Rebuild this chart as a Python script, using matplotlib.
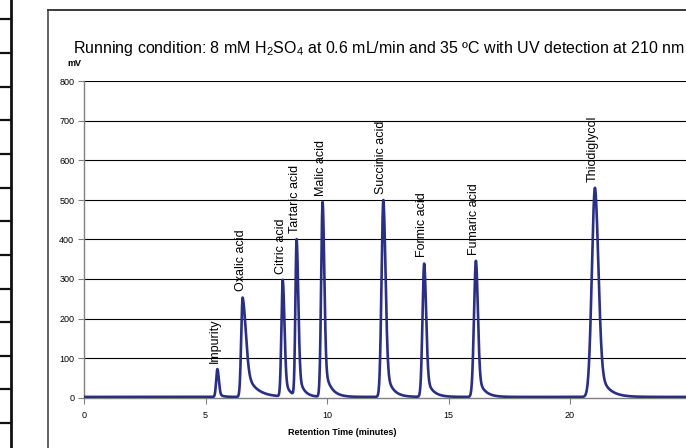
import numpy as np
import matplotlib
matplotlib.use("Agg")
import matplotlib.pyplot as plt
from matplotlib.lines import Line2D

plt.rcParams['font.family'] = ['Liberation Sans', 'DejaVu Sans']
plt.rcParams['mathtext.fontset'] = 'custom'
plt.rcParams['mathtext.rm'] = 'Liberation Sans'
plt.rcParams['mathtext.it'] = 'Liberation Sans:italic'
plt.rcParams['mathtext.bf'] = 'Liberation Sans:bold'

# ---------------- data ----------------
peak_names = ["Impurity", "Oxalic acid", "Citric acid", "Tartaric acid", "Malic acid",
              "Succinic acid", "Formic acid", "Fumaric acid", "Thiodiglycol"]
retention_times = [5.49, 6.53, 8.18, 8.75, 9.82, 12.32, 14.00, 16.13, 21.03]   # min
peak_heights = [72, 253, 298, 401, 495, 500, 339, 346, 531]                     # mV
sigma_left = [0.05, 0.06, 0.055, 0.05, 0.06, 0.075, 0.07, 0.08, 0.13]
sigma_right = [0.06, 0.13, 0.07, 0.07, 0.07, 0.09, 0.08, 0.08, 0.14]
tail_fraction = [0.15, 0.35, 0.2, 0.2, 0.2, 0.2, 0.2, 0.2, 0.2]
tail_tau = [0.15, 0.4, 0.2, 0.2, 0.25, 0.25, 0.25, 0.25, 0.35]
baseline_mv = 1.5

y_ticks = [0, 100, 200, 300, 400, 500, 600, 700, 800]
x_ticks = [0, 5, 10, 15, 20]
title_text = ("Running condition: 8 mM H$\\mathregular{_2}$SO$\\mathregular{_4}$ at 0.6 mL/min "
              "and 35 \u00baC with UV detection at 210 nm")


def shape(t, t0, sl, sr, a, tau):
    dt = t - t0
    out = np.exp(-0.5 * (dt / sl) ** 2)
    right = dt >= 0
    out[right] = (1 - a) * np.exp(-0.5 * (dt[right] / sr) ** 2) + a * np.exp(-dt[right] / tau)
    return out


t = np.linspace(0, 25, 10001)
n = len(retention_times)
M = np.zeros((n, n))
for j in range(n):
    M[:, j] = shape(np.array(retention_times, dtype=float), retention_times[j], sigma_left[j],
                    sigma_right[j], tail_fraction[j], tail_tau[j])
amps = np.linalg.solve(M, np.array(peak_heights, dtype=float) - baseline_mv)
signal = np.full_like(t, baseline_mv)
for j in range(n):
    signal += amps[j] * shape(t, retention_times[j], sigma_left[j], sigma_right[j],
                              tail_fraction[j], tail_tau[j])

# ---------------- figure ----------------
W, H = 686, 448
fig = plt.figure(figsize=(W / 100, H / 100), dpi=100)
fig.patch.set_facecolor('white')

x0_px, y0_px, y800_px, px_per_min = 84, 397.5, 81.5, 24.3
ax = fig.add_axes([x0_px / W, 1 - y0_px / H, 25 * px_per_min / W, (y0_px - y800_px) / H])
ax.set_xlim(0, 25)
ax.set_ylim(0, 800)
ax.set_facecolor('none')

for yv in y_ticks[1:]:
    ax.axhline(yv, color='#000000', lw=0.8, zorder=1)

ax.plot(t, signal, color='#2a2f84', lw=1.9, zorder=3, solid_joinstyle='round')

for name, rt, h in zip(peak_names, retention_times, peak_heights):
    ax.annotate(name, (rt, h), xytext=(-1.5, 4.5), textcoords='offset points',
                rotation=90, ha='center', va='bottom', fontsize=9, color='black',
                annotation_clip=False)

for s in ['top', 'right']:
    ax.spines[s].set_visible(False)
ax.spines['left'].set_color('#808080')
ax.spines['bottom'].set_color('#808080')
ax.spines['left'].set_linewidth(1.0)
ax.spines['bottom'].set_linewidth(1.0)
ax.set_yticks(y_ticks)
ax.set_xticks(x_ticks)
ax.tick_params(axis='both', length=4, width=0.8, color='#808080', labelsize=6.5,
               labelcolor='#000000', pad=3)
ax.tick_params(axis='x', pad=6)

# texts
fig.text(379 / W, 1 - 48 / H, title_text, ha='center', va='center', fontsize=11.5)
fig.text(74 / W, 1 - 63 / H, "mV", ha='center', va='center', fontsize=6.5, fontweight='bold')
fig.text(342 / W, 1 - 432 / H, "Retention Time (minutes)", ha='center', va='center',
         fontsize=6.5, fontweight='bold')

# page decorations (frame and left edge)
def px_line(xs, ys, **kw):
    fig.add_artist(Line2D([x / W for x in xs], [1 - y / H for y in ys],
                          transform=fig.transFigure, **kw))

px_line([48, 48], [10, 448], color='#3a3a3a', lw=1.1)
px_line([48, 686], [10, 10], color='#3a3a3a', lw=1.4)
px_line([11.4, 11.4], [0, 448], color='#111111', lw=2.0)
for k in range(13):
    yy = 19.5 + 33.63 * k
    px_line([0, 11.4], [yy, yy], color='#111111', lw=1.6)

fig.savefig("out.png", dpi=100)
